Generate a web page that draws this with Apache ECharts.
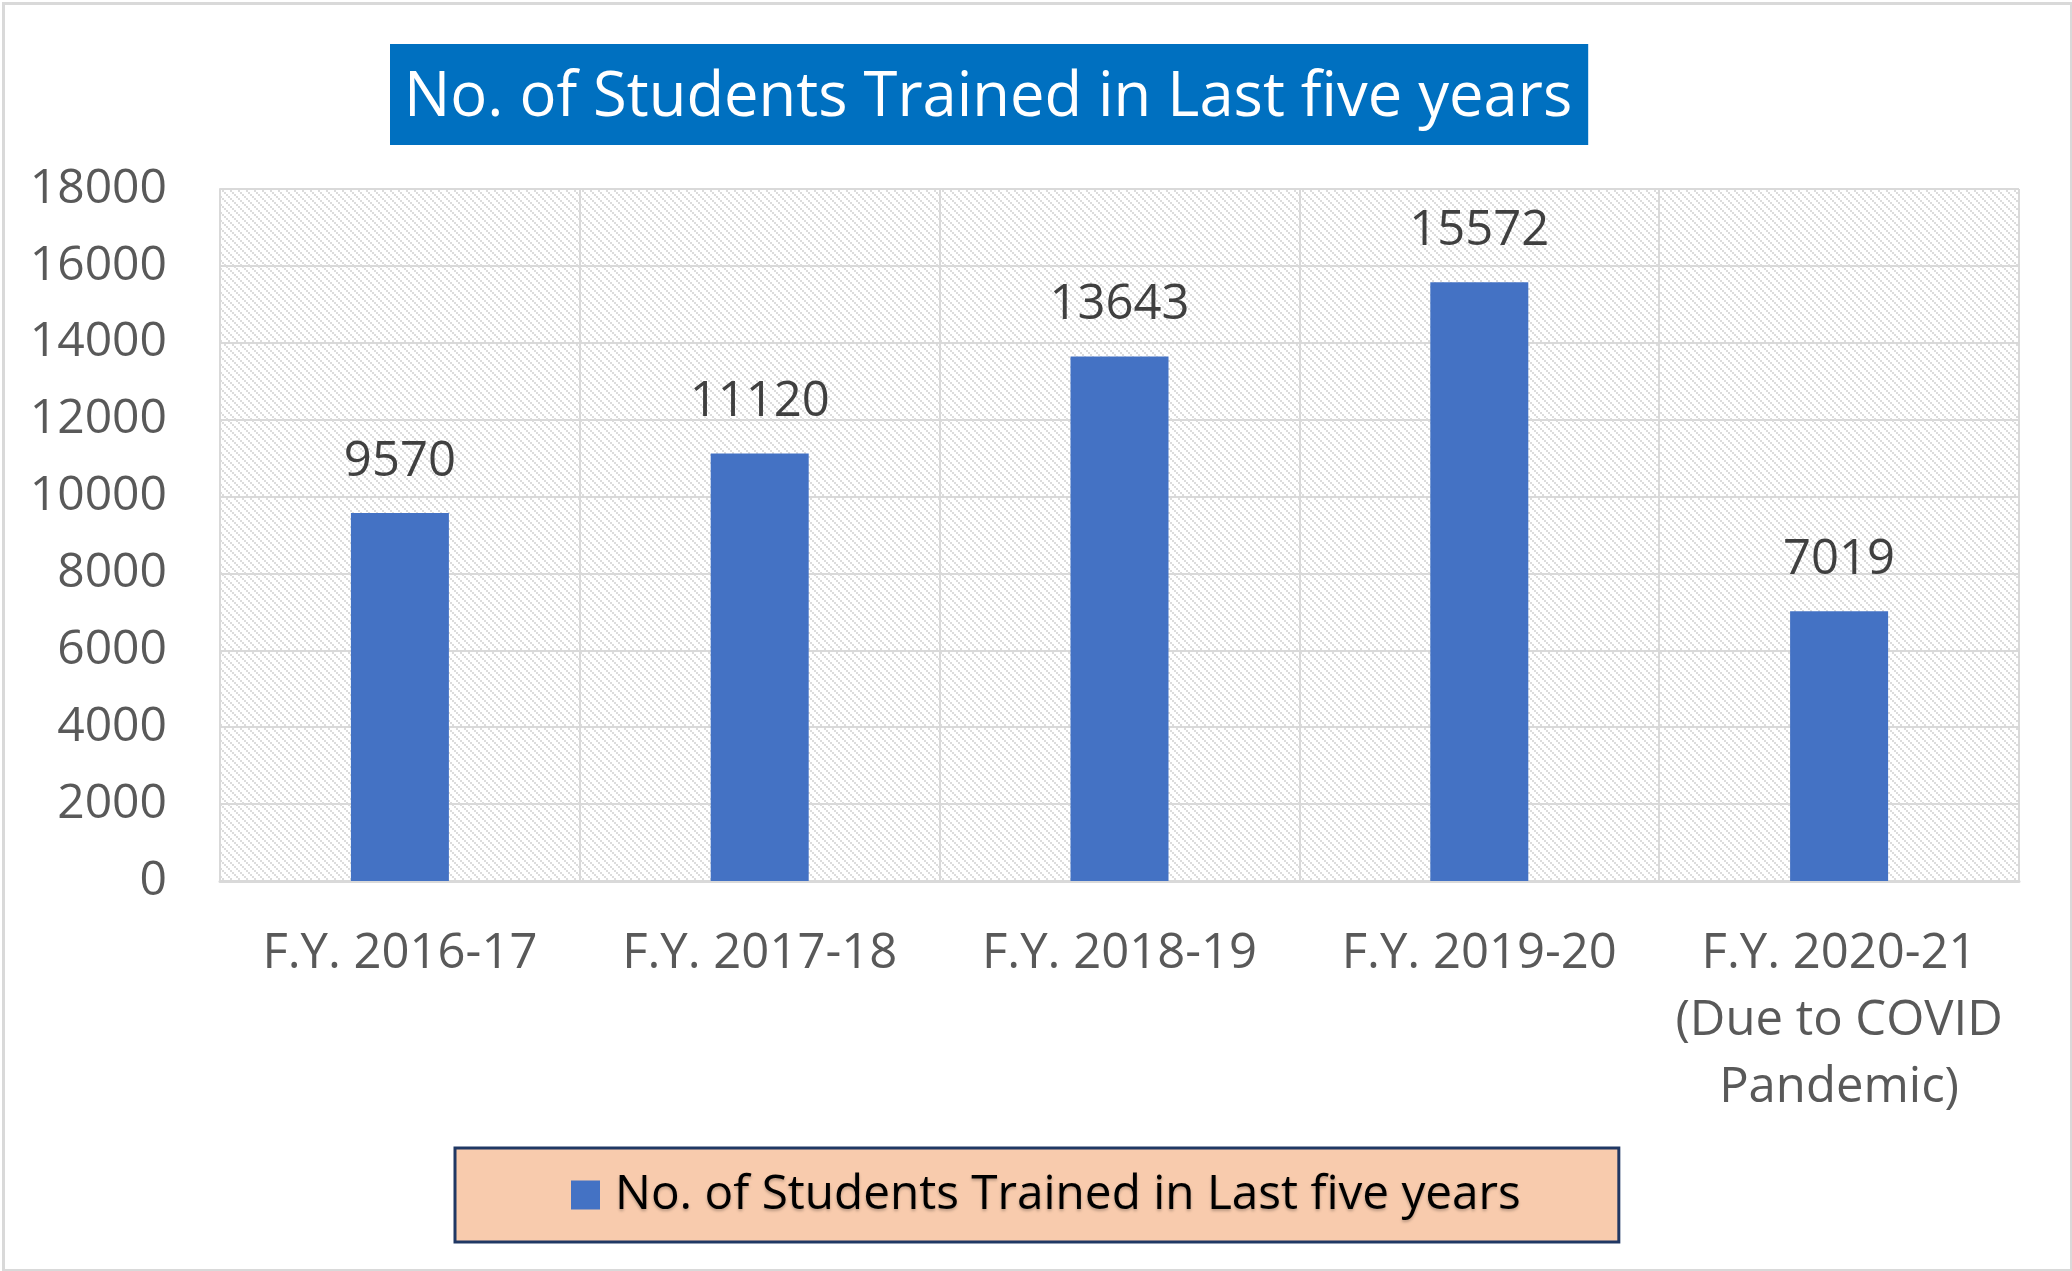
<!DOCTYPE html>
<html>
<head>
<meta charset="utf-8">
<script src="https://cdn.jsdelivr.net/npm/echarts@6/dist/echarts.min.js"></script>
<style>
  html, body { margin: 0; padding: 0; background: #fff; }
  #main { width: 2072px; height: 1271px; }
</style>
</head>
<body>
<div id="main"></div>
<script>
// chart data
var categories = ['F.Y. 2016-17', 'F.Y. 2017-18', 'F.Y. 2018-19', 'F.Y. 2019-20', 'F.Y. 2020-21\n(Due to COVID\nPandemic)'];
var students = [9570, 11120, 13643, 15572, 7019];
var seriesName = 'No. of Students Trained in Last five years';

// small hatch tile for the plot background
function hatch() {
    var c = document.createElement('canvas');
    c.width = 8; c.height = 8;
    var ctx = c.getContext('2d');
    ctx.fillStyle = '#fff';
    ctx.fillRect(0, 0, 8, 8);
    ctx.fillStyle = '#dcdcdc';
    for (var i = 0; i < 8; i += 2) {
        ctx.fillRect(i, i, 2, 2);
    }
    return c;
}

var myChart = echarts.init(document.getElementById('main'));
var font = 'Open Sans';

var option = {
    animation: false,
    title: {
        text: seriesName,
        left: 390,
        top: 44,
        backgroundColor: '#0070C0',
        padding: [19, 16, 11, 14],
        textStyle: {
            color: '#fff',
            fontSize: 61.5,
            lineHeight: 71,
            fontWeight: 'normal',
            fontFamily: font
        }
    },
    legend: {
        data: [seriesName],
        left: 455,
        top: 1148,
        backgroundColor: '#F8CBAD',
        borderColor: '#203864',
        borderWidth: 3,
        padding: [22, 98, 22, 116],
        itemWidth: 29,
        itemHeight: 29,
        icon: 'rect',
        textStyle: {
            color: '#000',
            fontSize: 47.7,
            lineHeight: 50,
            fontFamily: font,
            padding: [0, 0, 0, 10],
            textShadowColor: 'rgba(0,0,0,0.25)',
            textShadowBlur: 3,
            textShadowOffsetY: 2
        }
    },
    grid: {
        left: 220,
        right: 53,
        top: 189,
        bottom: 390,
        show: true,
        borderWidth: 0,
        backgroundColor: { image: hatch(), repeat: 'repeat' }
    },
    xAxis: {
        type: 'category',
        data: categories,
        axisLine: { lineStyle: { color: '#d9d9d9', width: 3 } },
        axisTick: { show: false },
        splitLine: { show: true, interval: 0, lineStyle: { color: '#d9d9d9', width: 2 } },
        axisLabel: {
            interval: 0,
            margin: 40,
            color: '#595959',
            fontSize: 49,
            lineHeight: 67,
            fontFamily: font
        }
    },
    yAxis: {
        type: 'value',
        min: 0,
        max: 18000,
        interval: 2000,
        axisLine: { show: true, lineStyle: { color: '#d9d9d9', width: 2 } },
        axisTick: { show: false },
        splitLine: { lineStyle: { color: '#d9d9d9', width: 2 } },
        axisLabel: {
            margin: 53,
            color: '#595959',
            fontSize: 48,
            fontFamily: font,
            formatter: function (v) { return String(v); }
        }
    },
    series: [
        {
            name: seriesName,
            type: 'bar',
            data: students,
            barWidth: 98,
            itemStyle: { color: '#4472C4' },
            label: {
                show: true,
                position: 'top',
                distance: 27,
                color: '#404040',
                fontSize: 49,
                fontFamily: font
            }
        }
    ],
    graphic: [
        {
            type: 'rect',
            left: 1,
            top: 1,
            z: -10,
            shape: { width: 2068, height: 1267 },
            style: { fill: 'none', stroke: '#d9d9d9', lineWidth: 3 }
        }
    ]
};

myChart.setOption(option);
</script>
</body>
</html>
